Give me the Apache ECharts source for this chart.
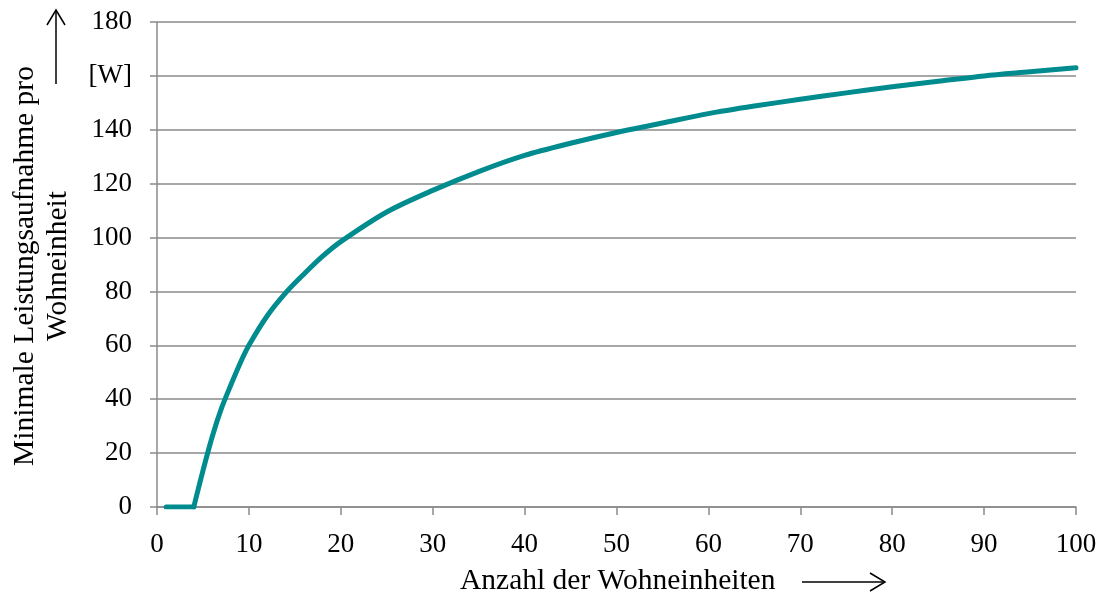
<!DOCTYPE html>
<html>
<head>
<meta charset="utf-8">
<script src="https://cdn.jsdelivr.net/npm/echarts@6/dist/echarts.min.js"></script>
<style>html,body{margin:0;padding:0;background:#fff;}#c{width:1100px;height:597px;}</style>
</head>
<body>
<div id="c"></div>
<script>
// Data
const units = [1,2,3,4,5,6,7,8,9,10,12,14,16,18,20,25,30,35,40,45,50,55,60,65,70,75,80,85,90,95,100];
const power = [0,0,0,0,13.5,26,36.5,45,53,60,71,79.5,86.5,93,98.5,109.5,117.5,124.5,130.5,135,139,142.5,146,148.8,151.3,153.7,156,158,160,161.5,163];
const yTicks = ['0','20','40','60','80','100','120','140','[W]','180'];
const xTitle = 'Anzahl der Wohneinheiten';
const yTitle = 'Minimale Leistungsaufnahme pro\nWohneinheit';

const font = 'Liberation Serif, Times New Roman, serif';
const gray = '#8a8a8a';
const teal = '#008B8E';
const pts = units.map((u,i)=>[u,power[i]]);
// the flat part (all zero) is drawn straight, the rising part smooth; they share the last zero point
const lastZero = power.lastIndexOf(0);
const flatPart = pts.slice(0, lastZero + 1);
const risePart = pts.slice(lastZero);

const chart = echarts.init(document.getElementById('c'), null, {renderer:'canvas'});
chart.setOption({
  animation:false,
  backgroundColor:'#fff',
  grid:{left:157, right:24, top:22, bottom:90, containLabel:false},
  xAxis:{
    type:'value', min:0, max:100, interval:10,
    axisLine:{show:true, lineStyle:{color:gray, width:1.5}},
    axisTick:{show:true, length:8, lineStyle:{color:gray, width:1.5}},
    splitLine:{show:false},
    axisLabel:{color:'#000', fontFamily:font, fontSize:27, margin:24}
  },
  yAxis:{
    type:'value', min:0, max:180, interval:20,
    axisLine:{show:true, lineStyle:{color:gray, width:1.5}},
    axisTick:{show:true, length:7, lineStyle:{color:gray, width:1.5}},
    splitLine:{show:true, lineStyle:{color:gray, width:1.5}},
    axisLabel:{color:'#000', fontFamily:font, fontSize:27, margin:25,
      formatter:(v)=>yTicks[Math.round(v/20)]}
  },
  series:[
    {type:'line', data:flatPart, smooth:false, showSymbol:false,
     lineStyle:{color:teal, width:5, cap:'round'}},
    {type:'line', data:risePart, smooth:0.3, showSymbol:false,
     lineStyle:{color:teal, width:5, cap:'round', join:'round'}}
  ],
  graphic:[
    {type:'text', left:460, top:566, style:{text:xTitle, font:'29.5px '+font, fill:'#000'}},
    {type:'line', shape:{x1:802,y1:582,x2:884,y2:582}, style:{stroke:'#000', lineWidth:1.5}},
    {type:'polyline', shape:{points:[[870,573],[885,582],[870,591]]}, style:{stroke:'#000', lineWidth:1.5, fill:null}},
    {type:'text', x:42, y:266, rotation:Math.PI/2, style:{text:yTitle, font:'29.5px '+font, fill:'#000', align:'center', verticalAlign:'middle', lineHeight:33}},
    {type:'line', shape:{x1:56,y1:84,x2:56,y2:11}, style:{stroke:'#000', lineWidth:1.5}},
    {type:'polyline', shape:{points:[[47,25],[56,10],[65,25]]}, style:{stroke:'#000', lineWidth:1.5, fill:null}}
  ]
});
</script>
</body>
</html>
